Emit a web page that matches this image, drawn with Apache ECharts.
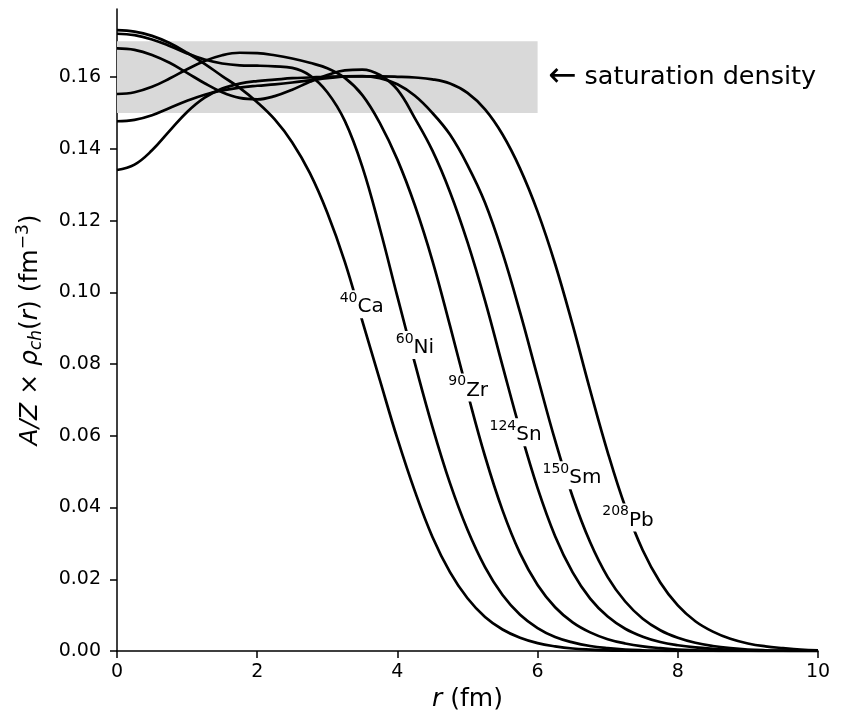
<!DOCTYPE html>
<html>
<head>
<meta charset="utf-8">
<script src="https://cdn.jsdelivr.net/npm/echarts@6/dist/echarts.min.js"></script>
<style>
html,body{margin:0;padding:0;background:#fff;}
#chart{width:843px;height:720px;}
</style>
</head>
<body>
<div id="chart"></div>
<script>
// radius grid (fm)
const rGrid = [0,0.25,0.5,0.75,1,1.25,1.5,1.75,2,2.25,2.5,2.75,3,3.25,3.5,3.75,4,4.25,4.5,4.75,5,5.25,5.5,5.75,6,6.25,6.5,6.75,7,7.25,7.5,7.75,8,8.25,8.5,8.75,9,9.25,9.5,9.75,10];

const ca40 = [0.1731,0.1727,0.1715,0.1695,0.1668,0.1637,0.1603,0.1570,0.1530,0.1482,0.1418,0.1333,0.1222,0.1085,0.0920,0.0755,0.0592,0.0445,0.0318,0.0220,0.0147,0.0095,0.0060,0.0037,0.0022,0.0013,0.0007,0.0004,0.0002,0.0001,0,0,0,0,0,0,0,0,0,0,0];
const ni60 = [0.1721,0.1717,0.1705,0.1687,0.1666,0.1649,0.1638,0.1633,0.1632,0.1630,0.1626,0.1605,0.1558,0.1478,0.1350,0.1178,0.0988,0.0802,0.0625,0.0468,0.0338,0.0234,0.0156,0.0101,0.0064,0.0039,0.0024,0.0014,0.0008,0.0004,0.0002,0.0001,0,0,0,0,0,0,0,0,0];
const zr90 = [0.1553,0.1558,0.1573,0.1596,0.1622,0.1645,0.1661,0.1668,0.1667,0.1661,0.1652,0.1640,0.1625,0.1598,0.1550,0.1472,0.1370,0.1242,0.1088,0.0907,0.0720,0.0543,0.0392,0.0272,0.0184,0.0122,0.0080,0.0052,0.0033,0.0021,0.0013,0.0008,0.0004,0.0002,0.0001,0,0,0,0,0,0];
const sn124 = [0.1680,0.1676,0.1662,0.1640,0.1612,0.1583,0.1558,0.1542,0.1538,0.1547,0.1565,0.1587,0.1606,0.1619,0.1621,0.1606,0.1565,0.1485,0.1395,0.1280,0.1140,0.0977,0.0795,0.0616,0.0454,0.0320,0.0219,0.0146,0.0096,0.0062,0.0040,0.0025,0.0016,0.0010,0.0006,0.0003,0.0001,0,0,0,0];
const sm150 = [0.1477,0.1481,0.1494,0.1514,0.1534,0.1551,0.1563,0.1571,0.1576,0.1580,0.1585,0.1591,0.1597,0.1602,0.1603,0.1597,0.1580,0.1548,0.1500,0.1440,0.1355,0.1250,0.1110,0.0944,0.0764,0.0587,0.0430,0.0303,0.0206,0.0138,0.0090,0.0058,0.0037,0.0023,0.0014,0.0008,0.0004,0.0002,0.0001,0,0];
const pb208 = [0.1341,0.1356,0.1396,0.1450,0.1503,0.1543,0.1568,0.1582,0.1589,0.1593,0.1597,0.1599,0.1601,0.1602,0.1602,0.1602,0.1601,0.1599,0.1594,0.1582,0.1556,0.1510,0.1440,0.1345,0.1225,0.1079,0.0909,0.0727,0.0554,0.0402,0.0281,0.0191,0.0127,0.0083,0.0054,0.0034,0.0021,0.0013,0.0008,0.0004,0.0002];

const nucleusMass = ['40','60','90','124','150','208'];
const nucleusSym = ['Ca','Ni','Zr','Sn','Sm','Pb'];
const labelR = [3.49,4.25,5.01,5.685,6.49,7.29];
const labelY = [0.0967,0.0853,0.0735,0.0610,0.0490,0.0372];

const bandX = [0,6];
const bandY = [0.15,0.17];
const satArrow = '←';
const satText = 'saturation density';
const satPos = [6.15,0.16];

const xTicks = [0,2,4,6,8,10];
const yTicks = [0,0.02,0.04,0.06,0.08,0.10,0.12,0.14,0.16];

const curves = [ca40,ni60,zr90,sn124,sm150,pb208];
const FONT = 'DejaVu Sans';

const chart = echarts.init(document.getElementById('chart'), null, {renderer:'canvas'});

const series = [];
series.push({
  type:'line', data:[], z:1, silent:true,
  markArea:{silent:true, itemStyle:{color:'#d9d9d9', opacity:1},
    data:[[{xAxis:bandX[0], yAxis:bandY[0]},{xAxis:bandX[1], yAxis:bandY[1]}]]}
});
curves.forEach((c,i)=>{
  series.push({
    type:'line', name:nucleusSym[i], z:3,
    data: rGrid.map((r,k)=>[r,c[k]]),
    smooth:0.4, showSymbol:false, symbol:'none',
    lineStyle:{color:'#000', width:2.7},
    silent:true, animation:false
  });
});
series.push({
  type:'scatter', z:10, symbolSize:0, silent:true, animation:false,
  itemStyle:{opacity:1, color:'#000'},
  data: labelR.map((r,i)=>({value:[r,labelY[i]], name:nucleusSym[i],
    label:{formatter:'{s|'+nucleusMass[i]+'}{n|'+nucleusSym[i]+'}'}})),
  label:{show:true, position:'inside', backgroundColor:'#ffffff', padding:[1,1,1,1],
    opacity:1, color:'#000',
    rich:{
      s:{fontFamily:FONT, fontSize:14, color:'#000', verticalAlign:'top', lineHeight:14},
      n:{fontFamily:FONT, fontSize:20, color:'#000', verticalAlign:'bottom', lineHeight:26}
    }}
});
series.push({
  type:'scatter', z:10, symbolSize:0, silent:true, animation:false,
  itemStyle:{opacity:1, color:'#000'},
  data:[{value:satPos}],
  label:{show:true, position:'right', distance:0, opacity:1, color:'#000',
    formatter:'{a|'+satArrow+'} {t|'+satText+'}',
    fontFamily:FONT, fontSize:25,
    rich:{
      a:{fontFamily:FONT, fontSize:34, color:'#000', lineHeight:34},
      t:{fontFamily:FONT, fontSize:25.5, color:'#000', lineHeight:34}
    }}
});

chart.setOption({
  animation:false,
  backgroundColor:'#fff',
  grid:{left:117, right:25, top:9, bottom:69, containLabel:false},
  xAxis:{
    type:'value', min:0, max:10, interval:2,
    name:'{i|r} (fm)', nameLocation:'middle', nameGap:36,
    nameTextStyle:{fontFamily:FONT, fontSize:25, color:'#000',
      rich:{i:{fontFamily:FONT, fontSize:25, fontStyle:'italic', color:'#000'}}},
    axisLine:{show:true, onZero:false, lineStyle:{color:'#000', width:1.5}},
    axisTick:{show:true, length:7, lineStyle:{color:'#000', width:1.5}},
    axisLabel:{fontFamily:FONT, fontSize:19, color:'#000', margin:12},
    splitLine:{show:false}
  },
  yAxis:{
    type:'value', min:0, max:0.179,
    name:'{i|A/Z} × {i|ρ}{sub|ch}({i|r}) (fm{sup|−3})',
    nameLocation:'middle', nameGap:72, nameRotate:90,
    nameTextStyle:{fontFamily:FONT, fontSize:25, color:'#000', lineHeight:30,
      rich:{
        i:{fontFamily:FONT, fontSize:25, fontStyle:'italic', color:'#000', lineHeight:30},
        sub:{fontFamily:FONT, fontSize:17, fontStyle:'italic', color:'#000', verticalAlign:'bottom', lineHeight:17},
        sup:{fontFamily:FONT, fontSize:17, color:'#000', verticalAlign:'top', lineHeight:17}
      }},
    axisLine:{show:true, lineStyle:{color:'#000', width:1.5}},
    axisTick:{show:true, length:7, customValues:yTicks, lineStyle:{color:'#000', width:1.5}},
    axisLabel:{fontFamily:FONT, fontSize:19, color:'#000', margin:16, customValues:yTicks,
      formatter:(v)=>v.toFixed(2)},
    splitLine:{show:false}
  },
  series: series
});
</script>
</body>
</html>
